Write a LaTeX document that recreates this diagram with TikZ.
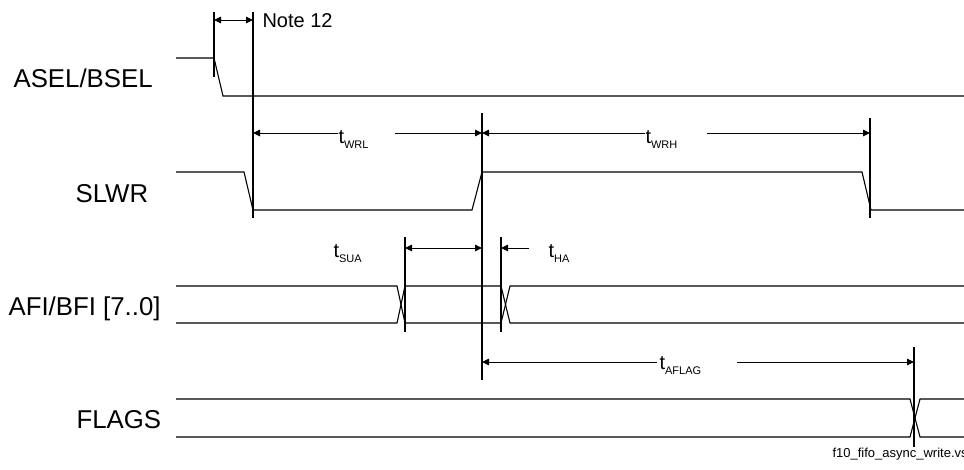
\documentclass[tikz,border=0pt]{standalone}
\usepackage{fontspec}
\setmainfont{Liberation Sans}
\usetikzlibrary{arrows.meta}
\newcommand{\tsub}[1]{t\raisebox{-5pt}{\fontsize{11}{11}\selectfont #1}}

\begin{document}
\begin{tikzpicture}[x=1pt,y=-1pt,line width=1.1pt,
  sig/.style={font=\fontsize{25.8}{26}\selectfont,anchor=base west,inner sep=0pt},
  tlab/.style={font=\fontsize{20}{20}\selectfont,anchor=base west,inner sep=0pt},
  dimR/.style={line width=0.9pt,-{Triangle[length=7pt,width=6.5pt]}},
  dimL/.style={line width=0.9pt,{Triangle[length=7pt,width=6.5pt]}-},
  dimLR/.style={line width=0.9pt,{Triangle[length=7pt,width=6.5pt]}-{Triangle[length=7pt,width=6.5pt]}}]
\useasboundingbox (0,0) rectangle (964,469);
\clip (0,0) rectangle (964,469);
% signal names
\node[sig] (asel) at (13,87) {ASEL/BSEL};
\node[sig] (slwr) at (75,202) {SLWR};
\node[sig] (afi) at (8,315) {AFI/BFI [7..0]};
\node[sig] (flags) at (76,428) {FLAGS};
% waveforms
\draw (176,58) -- (214,58) -- (223,96) -- (964,96);
\draw (176,172) -- (244,172) -- (253,210) -- (472,210) -- (482,172) -- (862,172) -- (871,210) -- (964,210);
\draw (176,286) -- (397,286) -- (405,323) -- (501,323) -- (510,286) -- (964,286);
\draw (176,323) -- (397,323) -- (405,286) -- (501,286) -- (510,323) -- (964,323);
\draw (176,399) -- (910,399) -- (920,437) -- (964,437);
\draw (176,437) -- (910,437) -- (920,399) -- (964,399);
% edge markers
\coordinate (selA) at (214,12);  \coordinate (selB) at (214,77);
\coordinate (wrA) at (253,12);   \coordinate (wrB) at (253,218);
\coordinate (wrC) at (482,113);  \coordinate (wrD) at (482,380);
\coordinate (wrE) at (870,118);  \coordinate (wrF) at (870,218);
\coordinate (dA) at (405,237);   \coordinate (dB) at (405,332);
\coordinate (dC) at (501,237);   \coordinate (dD) at (501,332);
\coordinate (flA) at (914,347);  \coordinate (flB) at (914,447);
\draw (selA) -- (selB);
\draw (wrA) -- (wrB);
\draw (wrC) -- (wrD);
\draw (wrE) -- (wrF);
\draw (dA) -- (dB);
\draw (dC) -- (dD);
\draw (flA) -- (flB);
% timing labels
\node[tlab] (note) at (262,27) {Note 12};
\node[tlab] (twrl) at (338,143) {\tsub{WRL}};
\node[tlab] (twrh) at (645,143) {\tsub{WRH}};
\node[tlab] (tsua) at (333,257) {\tsub{SUA}};
\node[tlab] (tha) at (548,257) {\tsub{HA}};
\node[tlab] (taflag) at (659,369) {\tsub{AFLAG}};
\node[anchor=base west,inner sep=0pt,font=\fontsize{13}{13}\selectfont] (fname) at (832,457) {f10\_fifo\_async\_write.vsd};
% dimension arrows
\draw[dimLR] (selA |- 0,20) -- (wrA |- 0,20);
\draw[dimL] (wrA |- 0,133) -- (338,133);
\draw[dimR] (395,133) -- (wrC |- 0,133);
\draw[dimL] (wrC |- 0,133) -- (645,133);
\draw[dimR] (707,133) -- (wrE |- 0,133);
\draw[dimLR] (dA |- 0,248) -- (wrC |- 0,248);
\draw[dimR] (529,248) -- (dC |- 0,248);
\draw[dimL] (wrC |- 0,362) -- (657,362);
\draw[dimR] (737,362) -- (flA |- 0,362);
\end{tikzpicture}
\end{document}
